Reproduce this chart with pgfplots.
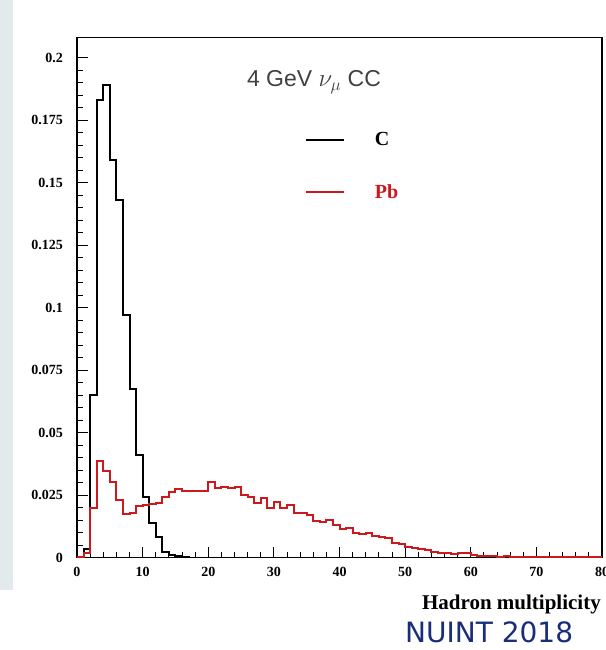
\documentclass[border=0pt]{standalone}
\usepackage{fontspec}
\setmainfont{Liberation Serif}
\newfontfamily\sansf{Liberation Sans}
\newfontfamily\nuintf{DejaVu Sans}
\usepackage{pgfplots}
\pgfplotsset{compat=1.18}
\definecolor{hred}{RGB}{205,25,30}
\definecolor{navy}{RGB}{25,45,120}
\definecolor{slidebg}{RGB}{226,234,236}
\pgfplotstableread{
x y
0 0
1 0.0034
2 0.065
3 0.183
4 0.189
5 0.159
6 0.143
7 0.097
8 0.0675
9 0.041
10 0.0244
11 0.0138
12 0.0082
13 0.0024
14 0.001
15 0.0005
16 0.0002
17 0
80 0
}\carbon
\pgfplotstableread{
x y
0 0.0003
1 0.002
2 0.0198
3 0.0387
4 0.0347
5 0.0304
6 0.0231
7 0.0174
8 0.0178
9 0.0207
10 0.0210
11 0.0215
12 0.0220
13 0.0244
14 0.0264
15 0.0275
16 0.0268
17 0.0268
18 0.0265
19 0.0265
20 0.0302
21 0.0280
22 0.0281
23 0.0280
24 0.0281
25 0.0251
26 0.0244
27 0.0218
28 0.0240
29 0.0200
30 0.0221
31 0.0198
32 0.0210
33 0.0177
34 0.0180
35 0.0171
36 0.0148
37 0.0144
38 0.0150
39 0.0130
40 0.0115
41 0.0117
42 0.0100
43 0.0093
44 0.0100
45 0.0088
46 0.0084
47 0.0077
48 0.0057
49 0.0053
50 0.0044
51 0.0037
52 0.0036
53 0.0030
54 0.0024
55 0.0018
56 0.0018
57 0.0013
58 0.0020
59 0.0020
60 0.0011
61 0.0006
62 0.0005
63 0.0005
64 0.0004
65 0.0005
66 0.0004
67 0.0003
68 0.0003
69 0.0003
70 0.0003
71 0.0002
72 0.0003
73 0.0002
74 0.0002
75 0.0004
76 0.0002
77 0.0002
78 0.0002
79 0.0002
80 0.0002
}\lead
\begin{document}
\begin{tikzpicture}[x=1pt,y=1pt]
\path[use as bounding box] (0,0) rectangle (605,650);
\fill[slidebg] (0,60) rectangle (13,650);
\begin{axis}[
  at={(77pt,92.3pt)}, anchor=south west,
  scale only axis, width=525pt, height=520pt,
  xmin=0, xmax=80, ymin=0, ymax=0.208,
  axis line style={line width=1.5pt},
  tick align=inside, xtick pos=bottom, ytick pos=left,
  xtick={0,10,20,30,40,50,60,70,80}, minor x tick num=4,
  ytick={0,0.025,0.05,0.075,0.1,0.125,0.15,0.175,0.2},
  yticklabels={0,0.025,0.05,0.075,0.1,0.125,0.15,0.175,0.2},
  minor y tick num=4,
  major tick length=11pt, minor tick length=6pt,
  every tick/.style={line width=0.8pt, black},
  /pgf/number format/assume math mode=true,
  xticklabel style={font=\bfseries\fontsize{14}{15}\selectfont, inner sep=0pt, yshift=-9pt},
  yticklabel style={font=\bfseries\fontsize{14}{15}\selectfont, inner sep=0pt, xshift=-14pt},
  xlabel={Hadron multiplicity},
  xlabel style={at={(rel axis cs:1,0)}, anchor=base east, yshift=-52pt, xshift=-1pt,
    font=\bfseries\fontsize{21}{23}\selectfont, inner sep=0pt},
  legend style={draw=none, fill=none, at={(axis description cs:0.428,0.822)}, anchor=north west,
    font=\bfseries\fontsize{20}{22}\selectfont, row sep=37pt, column sep=30pt,
    nodes={inner sep=0pt}},
  legend cell align=left,
  legend image code/.code={\draw[#1] (0pt,0pt) -- (38pt,0pt);},
]
\addplot[const plot, black, line width=2pt] table {\carbon};
\addlegendentry{C}
\addplot[const plot, hred, line width=2pt] table {\lead};
\addlegendentry{\textcolor{hred}{Pb}}
\end{axis}
\node[anchor=base, font=\sansf\fontsize{23}{24}\selectfont, text=black!75] at (314,563.3) {4 GeV $\nu_\mu$ CC};
\node[anchor=base west, font=\nuintf\fontsize{28}{30}\selectfont, text=navy, inner sep=0pt] at (405,7) {NUINT 2018};
\end{tikzpicture}
\end{document}
